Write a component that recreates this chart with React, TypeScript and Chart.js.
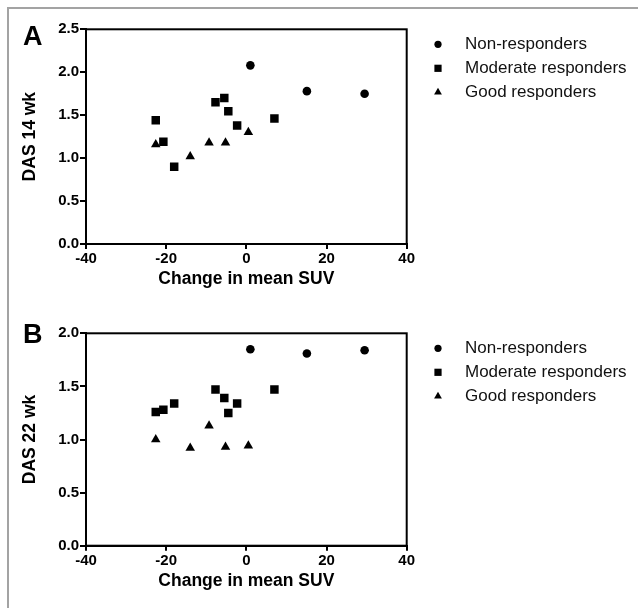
import React, { useEffect, useRef } from 'react';
import { Chart, registerables } from 'chart.js';
import { drawPoint } from 'chart.js/helpers';

Chart.register(...registerables);

const FAMILY = "'Liberation Sans', Arial, Helvetica, sans-serif";

// ---- data ----
const seriesLabels = ['Non-responders', 'Moderate responders', 'Good responders'];
const seriesStyles = ['circle', 'rect', 'triangle'];

// Change in mean SUV (shared by both panels)
const nonX = [1.0, 15.1, 29.5];
const modX = [-22.6, -20.7, -18.0, -7.7, -5.5, -4.5, -2.3, 7.0];
const goodX = [-22.6, -14.0, -9.3, -5.2, 0.5];

// DAS at 14 weeks
const nonY14 = [2.08, 1.78, 1.75];
const modY14 = [1.44, 1.19, 0.9, 1.65, 1.7, 1.545, 1.38, 1.46];
const goodY14 = [1.16, 1.02, 1.18, 1.18, 1.3];

// DAS at 22 weeks
const nonY22 = [1.85, 1.81, 1.84];
const modY22 = [1.26, 1.28, 1.34, 1.47, 1.39, 1.25, 1.34, 1.47];
const goodY22 = [1.0, 0.92, 1.13, 0.93, 0.94];

const xTicks = [-40, -20, 0, 20, 40];
const yTicks14 = [0, 0.5, 1.0, 1.5, 2.0, 2.5];
const yTicks22 = [0, 0.5, 1.0, 1.5, 2.0];

const xTitle = 'Change in mean SUV';
const yTitle14 = 'DAS 14 wk';
const yTitle22 = 'DAS 22 wk';

const pointRadius = [4.3, 6.0, 5.5];
const legendRadius = [3.6, 5.1, 4.5];

const decorPlugin = {
  id: 'panelDecor',
  beforeDatasetsDraw(chart: any) {
    const { ctx, chartArea: ca } = chart;
    ctx.save();
    ctx.strokeStyle = '#000';
    ctx.lineWidth = 2;
    ctx.strokeRect(ca.left, ca.top, ca.right - ca.left, ca.bottom - ca.top);
    ctx.restore();
  },
  afterDraw(chart: any, _args: any, opts: any) {
    const { ctx, chartArea: ca } = chart;
    ctx.save();
    ctx.fillStyle = '#000';
    ctx.font = `bold 27px ${FAMILY}`;
    ctx.textAlign = 'left';
    ctx.textBaseline = 'alphabetic';
    ctx.fillText(opts.letter, opts.letterX, opts.letterY);

    ctx.font = `17px ${FAMILY}`;
    ctx.textBaseline = 'middle';
    chart.data.datasets.forEach((ds: any, i: number) => {
      const y = ca.top + opts.legendTop + i * opts.legendGap;
      ctx.fillStyle = '#000';
      drawPoint(
        ctx,
        { pointStyle: ds.pointStyle, radius: legendRadius[i], rotation: 0, borderWidth: 0 } as any,
        opts.legendMarkerX,
        y
      );
      ctx.fillStyle = '#111';
      ctx.fillText(ds.label, opts.legendTextX, y);
    });
    ctx.restore();
  },
};

function toPoints(xs: number[], ys: number[]) {
  return xs.map((x, i) => ({ x, y: ys[i] }));
}

function buildConfig(
  ys: number[][],
  yTicks: number[],
  yTitle: string,
  letter: string,
  letterY: number,
  padding: { top: number; right: number; bottom: number; left: number }
): any {
  const xsList = [nonX, modX, goodX];
  return {
    type: 'scatter',
    data: {
      datasets: seriesLabels.map((label, i) => ({
        label,
        data: toPoints(xsList[i], ys[i]),
        pointStyle: seriesStyles[i],
        pointRadius: pointRadius[i],
        pointHoverRadius: pointRadius[i],
        backgroundColor: '#000',
        borderColor: '#000',
        borderWidth: 0,
      })),
    },
    options: {
      responsive: false,
      animation: false,
      layout: { padding },
      plugins: {
        legend: { display: false },
        tooltip: { enabled: false },
        panelDecor: {
          letter,
          letterX: 23,
          letterY,
          legendMarkerX: 438,
          legendTextX: 465,
          legendTop: 15,
          legendGap: 24,
        },
      },
      scales: {
        x: {
          type: 'linear',
          min: xTicks[0],
          max: xTicks[xTicks.length - 1],
          afterBuildTicks: (s: any) => {
            s.ticks = xTicks.map((v) => ({ value: v }));
          },
          afterFit: (s: any) => {
            s.height = 46;
          },
          grid: {
            display: true,
            drawOnChartArea: false,
            drawTicks: true,
            tickLength: 5,
            color: '#000',
            lineWidth: 2,
          },
          border: { display: true, color: '#000', width: 2 },
          ticks: {
            color: '#000',
            padding: 1,
            font: { family: FAMILY, size: 15, weight: 'bold' },
            callback: (v: any) => String(v),
          },
          title: {
            display: true,
            text: xTitle,
            color: '#000',
            padding: 0,
            font: { family: FAMILY, size: 17.5, weight: 'bold' },
          },
        },
        y: {
          type: 'linear',
          min: yTicks[0],
          max: yTicks[yTicks.length - 1],
          afterBuildTicks: (s: any) => {
            s.ticks = yTicks.map((v) => ({ value: v }));
          },
          afterFit: (s: any) => {
            s.width = 86;
          },
          grid: {
            display: true,
            drawOnChartArea: false,
            drawTicks: true,
            tickLength: 6,
            color: '#000',
            lineWidth: 2,
          },
          border: { display: true, color: '#000', width: 2 },
          ticks: {
            color: '#000',
            padding: 1,
            font: { family: FAMILY, size: 15, weight: 'bold' },
            callback: (v: any) => Number(v).toFixed(1),
          },
          title: {
            display: true,
            text: yTitle,
            color: '#000',
            padding: { top: 20, bottom: 0 },
            font: { family: FAMILY, size: 17.5, weight: 'bold' },
          },
        },
      },
    },
    plugins: [decorPlugin],
  };
}

function Panel(props: { top: number; height: number; config: () => any }) {
  const ref = useRef<HTMLCanvasElement | null>(null);
  useEffect(() => {
    if (!ref.current) return;
    const chart = new Chart(ref.current, props.config());
    return () => chart.destroy();
  }, []);
  return (
    <canvas
      ref={ref}
      width={638}
      height={props.height}
      style={{ position: 'absolute', left: 0, top: props.top, width: 638, height: props.height }}
    />
  );
}

export default function App() {
  return (
    <div
      style={{
        position: 'absolute',
        left: 0,
        top: 0,
        width: 638,
        height: 608,
        background: '#fff',
        overflow: 'hidden',
      }}
    >
      <div
        style={{
          position: 'absolute',
          left: 7,
          top: 7,
          right: -4,
          bottom: -4,
          borderTop: '2px solid #a3a3a3',
          borderLeft: '2px solid #a3a3a3',
        }}
      />
      <Panel
        top={0}
        height={300}
        config={() =>
          buildConfig([nonY14, modY14, goodY14], yTicks14, yTitle14, 'A', 45, {
            top: 29.3,
            right: 231.3,
            bottom: 10,
            left: 0,
          })
        }
      />
      <Panel
        top={300}
        height={308}
        config={() =>
          buildConfig([nonY22, modY22, goodY22], yTicks22, yTitle22, 'B', 43.3, {
            top: 33.3,
            right: 231.3,
            bottom: 16.3,
            left: 0,
          })
        }
      />
    </div>
  );
}
